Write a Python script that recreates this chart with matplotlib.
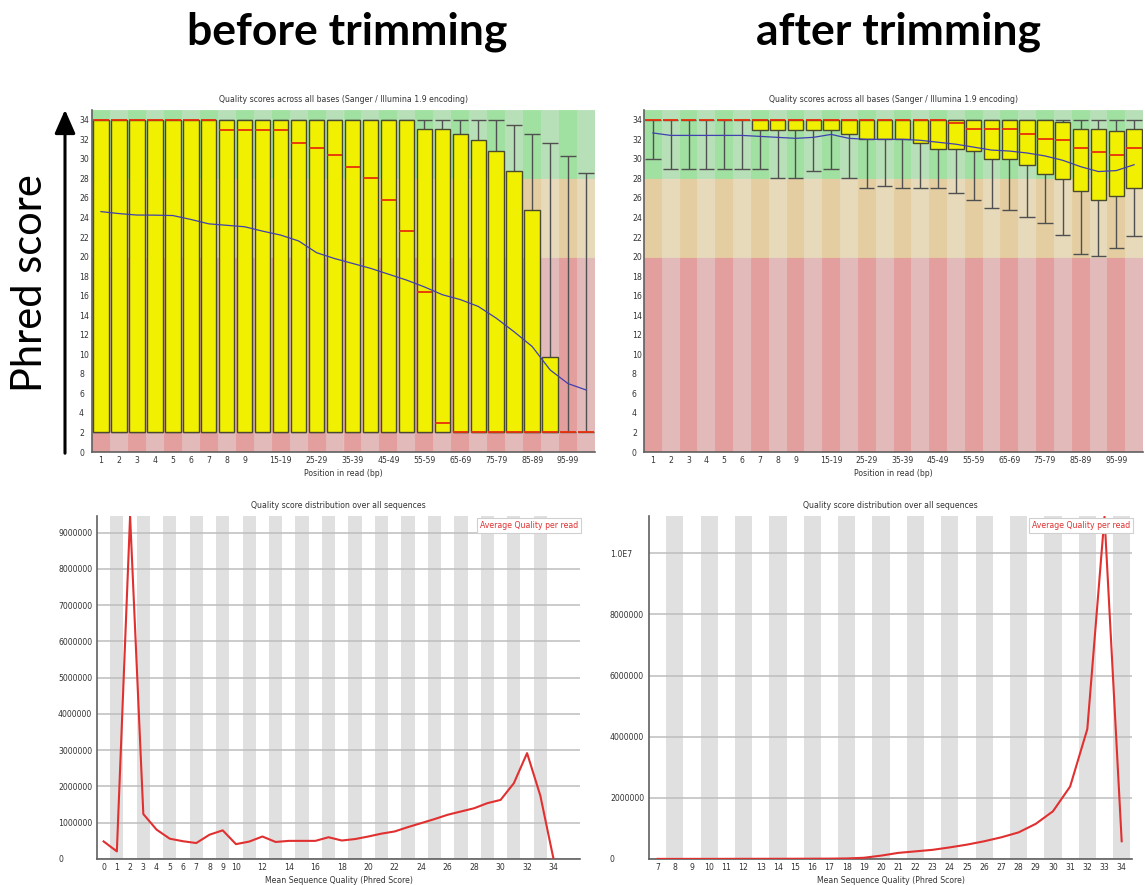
import numpy as np
import matplotlib
matplotlib.use('Agg')
import matplotlib.pyplot as plt

# ---- per-base quality (box plots), 28 position groups ----
positions = ['1', '2', '3', '4', '5', '6', '7', '8', '9',
             '10-14', '15-19', '20-24', '25-29', '30-34', '35-39', '40-44',
             '45-49', '50-54', '55-59', '60-64', '65-69', '70-74', '75-79',
             '80-84', '85-89', '90-94', '95-99', '100-101']
shown_positions = ['1', '2', '3', '4', '5', '6', '7', '8', '9',
                   '15-19', '25-29', '35-39', '45-49', '55-59', '65-69',
                   '75-79', '85-89', '95-99']

before_low = [2] * 28
before_q1 = [2] * 28
before_med = [34, 34, 34, 34, 34, 34, 34, 33, 33, 33, 33, 31.6, 31.1, 30.4,
              29.2, 28.0, 25.8, 22.6, 16.4, 3.0, 2, 2, 2, 2, 2, 2, 2, 2]
before_q3 = [34] * 18 + [33.1, 33.1, 32.5, 31.9, 30.8, 28.8, 24.8, 9.7, 2, 2]
before_high = [34] * 23 + [33.5, 32.5, 31.6, 30.3, 28.6]
before_mean = [24.6, 24.4, 24.25, 24.24, 24.2, 23.8, 23.35, 23.2, 23.05, 22.6,
               22.2, 21.6, 20.4, 19.8, 19.3, 18.8, 18.2, 17.6, 16.9, 16.1,
               15.6, 14.9, 13.7, 12.3, 10.8, 8.4, 7.0, 6.35]

after_low = [30, 29, 29, 29, 29, 29, 29, 28, 28, 28.8, 29, 28, 27, 27.2, 27,
             27, 27, 26.5, 25.8, 25.0, 24.8, 24.0, 23.4, 22.2, 20.3, 20.1,
             20.9, 22.1]
after_q1 = [34, 34, 34, 34, 34, 34, 33, 33, 33, 33, 33, 32.5, 32, 32, 32,
            31.6, 31.0, 31.0, 30.8, 30.0, 30.0, 29.4, 28.5, 27.9, 26.7, 25.8,
            26.2, 27.0]
after_med = [34] * 17 + [33.7, 33.1, 33.1, 33.1, 32.5, 32.0, 31.9, 31.1, 30.7,
                         30.4, 31.1]
after_q3 = [34] * 23 + [33.8, 33.1, 33.1, 32.8, 33.1]
after_high = [34] * 28
after_mean = [32.65, 32.4, 32.4, 32.4, 32.4, 32.4, 32.3, 32.2, 32.1, 32.2,
              32.5, 32.1, 32.0, 32.0, 32.0, 31.9, 31.7, 31.5, 31.2, 30.9,
              30.8, 30.6, 30.3, 29.85, 29.2, 28.7, 28.8, 29.4]

# quality zones: (from, to, dark colour, light colour)
zones = [(0, 20, '#e39e9e', '#e3baba'),
         (20, 28, '#e4cda0', '#e6dabb'),
         (28, 35, '#a0e0a0', '#b8e0b8')]

# ---- per-sequence quality distributions ----
before_q = list(range(0, 35))
before_count = [0.485, 0.21, 9.46, 1.24, 0.81, 0.56, 0.49, 0.44, 0.67, 0.79,
                0.41, 0.48, 0.62, 0.47, 0.50, 0.50, 0.50, 0.60, 0.51, 0.55,
                0.62, 0.70, 0.76, 0.88, 0.99, 1.10, 1.22, 1.31, 1.40, 1.54,
                1.63, 2.09, 2.92, 1.75, 0.0]
before_q_labels = [0, 1, 2, 3, 4, 5, 6, 7, 8, 9, 10, 12, 14, 16, 18, 20, 22,
                   24, 26, 28, 30, 32, 34]
before_yticks = [0, 1000000, 2000000, 3000000, 4000000, 5000000, 6000000,
                 7000000, 8000000, 9000000]

after_q = list(range(7, 35))
after_count = [0.004, 0.003, 0.004, 0.004, 0.005, 0.006, 0.006, 0.007, 0.008,
               0.010, 0.012, 0.018, 0.04, 0.11, 0.20, 0.25, 0.30, 0.38, 0.47,
               0.58, 0.71, 0.87, 1.15, 1.56, 2.37, 4.25, 11.2, 0.58]
after_yticks = [0, 2000000, 4000000, 6000000, 8000000, 10000000]
after_ytick_labels = ['0', '2000000', '4000000', '6000000', '8000000', '1.0E7']

TXT = '#333333'
SMALL = 5.6
W, H = 1145, 885

fig = plt.figure(figsize=(W / 100, H / 100), dpi=100)


def px_axes(left, top, right, bottom):
    return fig.add_axes([left / W, 1 - bottom / H, (right - left) / W,
                         (bottom - top) / H])


def style_axes(ax, ylab_pad):
    for s in ['top', 'right']:
        ax.spines[s].set_visible(False)
    for s in ['left', 'bottom']:
        ax.spines[s].set_color('#606060')
        ax.spines[s].set_linewidth(1.2)
    ax.tick_params(length=0, labelsize=SMALL, labelcolor=TXT)
    ax.tick_params(axis='x', pad=3)
    ax.tick_params(axis='y', pad=ylab_pad * 0.72)
    plt.setp(ax.get_yticklabels(), ha='left')


def per_base(ax, low, q1, med, q3, high, mean, ylab_pad):
    x = np.arange(len(positions))
    for lo, hi, dark, light in zones:
        cols = [dark if i % 2 == 0 else light for i in x]
        # edge in same colour so neighbouring stripes leave no seam
        ax.bar(x, hi - lo, bottom=lo, width=1.0, color=cols, edgecolor=cols,
               lw=0.6, zorder=0)
    low, q1, med, q3, high = map(np.array, (low, q1, med, q3, high))
    w = 0.86
    ax.vlines(x, low, q1, color='#505050', lw=1, zorder=2)
    ax.vlines(x, q3, high, color='#505050', lw=1, zorder=2)
    ax.hlines(low, x - w / 2, x + w / 2, color='#505050', lw=1, zorder=2)
    ax.hlines(high, x - w / 2, x + w / 2, color='#505050', lw=1, zorder=2)
    has_box = q3 - q1 > 0
    ax.bar(x[has_box], (q3 - q1)[has_box], bottom=q1[has_box], width=w,
           color='#f0f000', edgecolor='#4a4a30', lw=1, zorder=3)
    ax.hlines(med, x - w / 2, x + w / 2, color='#e8300a', lw=1.3, zorder=4)
    ax.plot(x, mean, color='#4040b0', lw=0.9, zorder=5)
    ax.set_xlim(-0.5, len(positions) - 0.5)
    ax.set_ylim(0, 35)
    ax.set_yticks(range(0, 35, 2))
    ticks = [positions.index(p) for p in shown_positions]
    ax.set_xticks(ticks)
    ax.set_xticklabels(shown_positions)
    ax.set_title('Quality scores across all bases (Sanger / Illumina 1.9 encoding)',
                 fontsize=SMALL, color=TXT, pad=6)
    ax.set_xlabel('Position in read (bp)', fontsize=SMALL, color=TXT, labelpad=3)
    style_axes(ax, ylab_pad)


def per_seq(ax, q, count, xlim, ytop, ylab_pad):
    q = np.array(q)
    shade = q[1::2]
    for v in shade:
        ax.axvspan(v - 0.5, v + 0.5, color='#e0e0e0', lw=0, zorder=0)
    ax.plot(q, np.array(count) * 1e6, color='#e03030', lw=1.5, zorder=3)
    ax.set_xlim(*xlim)
    ax.set_ylim(0, ytop)
    ax.set_axisbelow('line')
    ax.yaxis.grid(True, color='#bdbdbd', lw=1.1)
    ax.set_title('Quality score distribution over all sequences',
                 fontsize=SMALL, color=TXT, pad=6)
    ax.set_xlabel('Mean Sequence Quality (Phred Score)', fontsize=SMALL,
                  color=TXT, labelpad=3)
    ax.text(0.996, 0.972, 'Average Quality per read', transform=ax.transAxes,
            ha='right', va='center', fontsize=SMALL, color='#e03030', zorder=6,
            bbox=dict(boxstyle='square,pad=0.35', fc='white', ec='#d0d0d0',
                      lw=0.8))
    style_axes(ax, ylab_pad)


# top row
ax1 = px_axes(92, 110, 595, 452)
per_base(ax1, before_low, before_q1, before_med, before_q3, before_high,
         before_mean, 13)
ax2 = px_axes(644, 110, 1143, 452)
per_base(ax2, after_low, after_q1, after_med, after_q3, after_high,
         after_mean, 12)

# bottom row
ax3 = px_axes(97, 516, 580, 859)
ax3.set_yticks(before_yticks)
ax3.set_yticklabels([str(v) for v in before_yticks])
ax3.set_xticks(before_q_labels)
ax3.set_xticklabels([str(v) for v in before_q_labels])
per_seq(ax3, before_q, before_count, (-0.5, 36.0), 9.46e6, 39)

ax4 = px_axes(649, 516, 1132, 859)
ax4.set_yticks(after_yticks)
ax4.set_yticklabels(after_ytick_labels)
ax4.set_xticks(after_q)
ax4.set_xticklabels([str(v) for v in after_q])
per_seq(ax4, after_q, after_count, (6.5, 34.6), 11.22e6, 39)

# headings and y axis annotation
fig.text(347 / W, 1 - 32 / H, 'before trimming', ha='center', va='center',
         fontsize=32, fontweight='bold', family=['Lato', 'DejaVu Sans'])
fig.text(898 / W, 1 - 32 / H, 'after trimming', ha='center', va='center',
         fontsize=32, fontweight='bold', family=['Lato', 'DejaVu Sans'])
fig.text(30 / W, 1 - 283 / H, 'Phred score', ha='center', va='center',
         rotation=90, fontsize=30, family=['Lato', 'DejaVu Sans'])
ax1.annotate('', xy=(65, H - 107), xytext=(65, H - 456),
             xycoords='figure pixels', textcoords='figure pixels',
             annotation_clip=False,
             arrowprops=dict(arrowstyle='-|>,head_width=0.35,head_length=0.8',
                             lw=2.2, color='black', mutation_scale=18))

fig.savefig('out.png', dpi=100)
